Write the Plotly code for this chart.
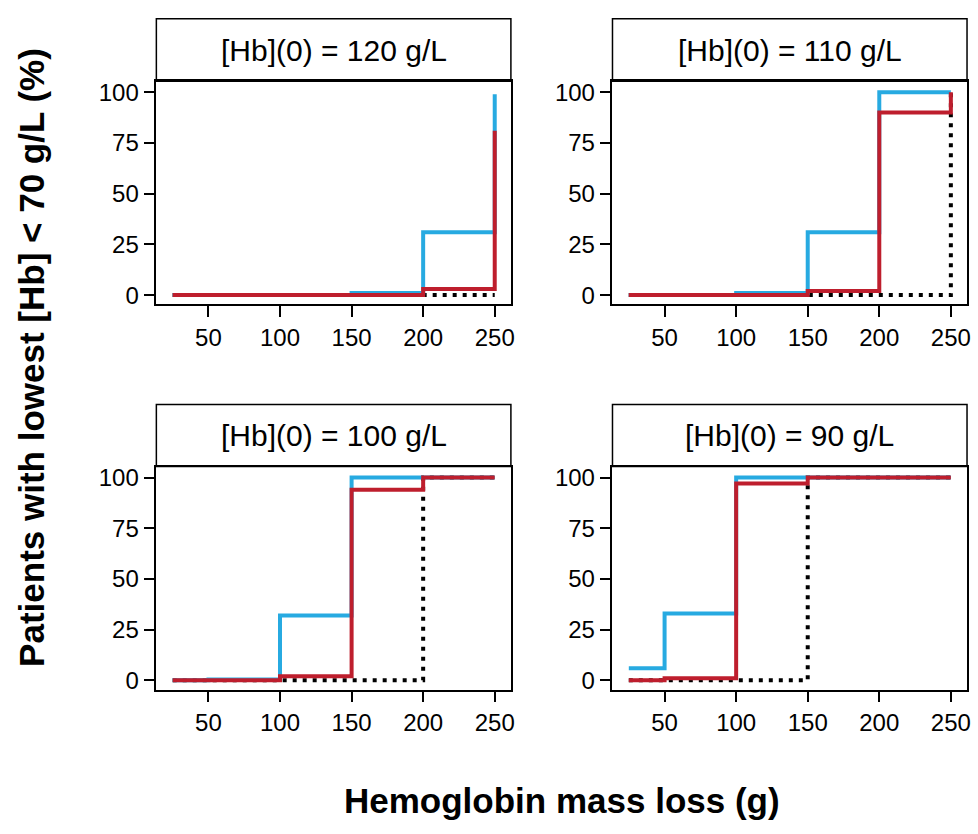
import plotly.graph_objects as go

# Hemoglobin mass loss grid (g)
mass_loss = [25, 50, 100, 150, 200, 250]

panel_titles = [
    "[Hb](0) = 120 g/L",
    "[Hb](0) = 110 g/L",
    "[Hb](0) = 100 g/L",
    "[Hb](0) = 90 g/L",
]

# Percentage of patients whose lowest [Hb] falls below 70 g/L
blue_120 = [0, 0, 0, 1, 31, 99]
red_120 = [0, 0, 0, 0, 3, 81]
dot_120 = [0, 0, 0, 0, 0, 0]

blue_110 = [0, 0, 1, 31, 100, 100]
red_110 = [0, 0, 0, 2, 90, 100]
dot_110 = [0, 0, 0, 0, 0, 100]

blue_100 = [0, 0.4, 32, 100, 100, 100]
red_100 = [0, 0, 2, 94, 100, 100]
dot_100 = [0, 0, 0, 0, 100, 100]

blue_90 = [6, 33, 100, 100, 100, 100]
red_90 = [0, 1, 97, 100, 100, 100]
dot_90 = [0, 0, 0, 100, 100, 100]

x_ticks = [50, 100, 150, 200, 250]
y_ticks = [0, 25, 50, 75, 100]

FONT = "Liberation Sans, Arial, Helvetica, sans-serif"
BLUE = "#27AAE1"
RED = "#BE1E2D"
W, H = 978, 834


def px_x(p):
    return p / W


def px_y(p):
    return 1 - p / H


# panel layout in pixels: (left, right) and (plot_top, plot_bottom, strip_top)
cols = [(157, 513), (615, 971)]
rows = [(79, 304, 16), (467.5, 692.5, 405)]

panels = [
    (panel_titles[0], blue_120, red_120, dot_120),
    (panel_titles[1], blue_110, red_110, dot_110),
    (panel_titles[2], blue_100, red_100, dot_100),
    (panel_titles[3], blue_90, red_90, dot_90),
]

fig = go.Figure()
layout = {}
shapes = []
annotations = []

for i, (title, blue, red, det) in enumerate(panels):
    n = i + 1
    xa = "x" if n == 1 else f"x{n}"
    ya = "y" if n == 1 else f"y{n}"
    left, right = cols[i % 2]
    top, bottom, strip_top = rows[i // 2]

    fig.add_trace(go.Scatter(
        x=mass_loss, y=det, mode="lines", xaxis=xa, yaxis=ya,
        line=dict(shape="hv", color="black", width=4, dash="4px,6px"),
        showlegend=False, hoverinfo="skip"))
    fig.add_trace(go.Scatter(
        x=mass_loss, y=blue, mode="lines", xaxis=xa, yaxis=ya,
        line=dict(shape="hv", color=BLUE, width=4),
        showlegend=False))
    fig.add_trace(go.Scatter(
        x=mass_loss, y=red, mode="lines", xaxis=xa, yaxis=ya,
        line=dict(shape="hv", color=RED, width=4),
        showlegend=False))

    common = dict(showline=True, mirror=True, linecolor="black", linewidth=1.5,
                  ticks="outside", ticklen=11, tickwidth=1.5, tickcolor="black",
                  showgrid=False, zeroline=False, fixedrange=True,
                  tickfont=dict(family=FONT, size=24, color="black"))
    layout["xaxis" if n == 1 else f"xaxis{n}"] = dict(
        common, domain=[px_x(left), px_x(right)], anchor=ya,
        range=[13.6, 261.3], tickvals=x_ticks)
    layout["yaxis" if n == 1 else f"yaxis{n}"] = dict(
        common, domain=[px_y(bottom), px_y(top)], anchor=xa,
        range=[-4.6, 105.4], tickvals=y_ticks)

    # strip header above each panel
    shapes.append(dict(type="rect", xref="paper", yref="paper",
                       x0=px_x(left), x1=px_x(right),
                       y0=px_y(top), y1=px_y(strip_top),
                       line=dict(color="black", width=1.5),
                       fillcolor="rgba(0,0,0,0)", layer="above"))
    annotations.append(dict(text=title, xref="paper", yref="paper",
                            x=px_x((left + right) / 2),
                            y=px_y((top + strip_top) / 2),
                            xanchor="center", yanchor="middle", showarrow=False,
                            font=dict(family=FONT, size=30, color="black")))

annotations.append(dict(text="<b>Hemoglobin mass loss (g)</b>", xref="paper", yref="paper",
                        x=px_x(564), y=px_y(804), xanchor="center", yanchor="middle",
                        showarrow=False, font=dict(family=FONT, size=35, color="black")))
annotations.append(dict(text="<b>Patients with lowest [Hb] < 70 g/L (%)</b>",
                        xref="paper", yref="paper", textangle=-90,
                        x=px_x(31), y=px_y(357), xanchor="center", yanchor="middle",
                        showarrow=False, font=dict(family=FONT, size=35, color="black")))

fig.update_layout(
    width=W, height=H,
    margin=dict(l=0, r=0, t=0, b=0),
    paper_bgcolor="white", plot_bgcolor="white",
    shapes=shapes, annotations=annotations,
    **layout,
)

fig.write_html("out.html", config={"displayModeBar": False})
